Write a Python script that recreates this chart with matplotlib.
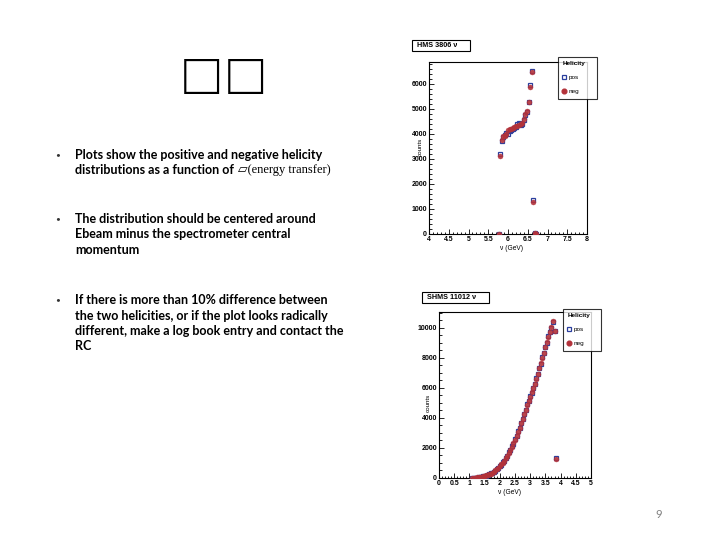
import matplotlib
matplotlib.use('Agg')
import matplotlib.pyplot as plt
from matplotlib.ticker import MultipleLocator
from matplotlib.lines import Line2D

# ---- slide text ----
title_chars = ["\u25a1", "\u25a1"]
bullets = [
    ["Plots show the positive and negative helicity",
     "distributions as a function of "],
    ["The distribution should be centered around",
     "Ebeam minus the spectrometer central",
     "momentum"],
    ["If there is more than 10% difference between",
     "the two helicities, or if the plot looks radically",
     "different, make a log book entry and contact the",
     "RC"],
]
bullet_tops = [155, 219, 300]
nu_tail = "\u25b1(energy transfer)"
page_no = "9"

# ---- HMS histogram (nu in GeV, counts) ----
hms_nu = [5.76, 5.80, 5.84, 5.88, 5.92, 5.96, 6.00, 6.04, 6.08, 6.12, 6.16, 6.20,
          6.24, 6.28, 6.32, 6.36, 6.40, 6.44, 6.48, 6.52, 6.56, 6.60, 6.64, 6.68, 6.72]
hms_pos = [0, 3180, 3720, 3880, 3950, 4020, 4000, 4100, 4150, 4200, 4230, 4280,
           4400, 4420, 4350, 4400, 4550, 4750, 4880, 5280, 5950, 6520, 1350, 20, 0]
hms_neg = [0, 3130, 3750, 3900, 3920, 3980, 4150, 4200, 4180, 4250, 4280, 4300,
           4330, 4370, 4380, 4450, 4600, 4800, 4900, 5270, 5880, 6480, 1280, 40, 0]

# ---- SHMS histogram ----
shms_nu = [1.10, 1.15, 1.20, 1.25, 1.30, 1.35, 1.40, 1.45, 1.50, 1.55, 1.60, 1.65,
           1.70, 1.75, 1.80, 1.85, 1.90, 1.95, 2.00, 2.05, 2.10, 2.15, 2.20, 2.25,
           2.30, 2.35, 2.40, 2.45, 2.50, 2.55, 2.60, 2.65, 2.70, 2.75, 2.80, 2.85,
           2.90, 2.95, 3.00, 3.05, 3.10, 3.15, 3.20, 3.25, 3.30, 3.35, 3.40, 3.45,
           3.50, 3.55, 3.60, 3.65, 3.70, 3.75, 3.80, 3.85]
shms_neg = [0, 10, 20, 35, 50, 70, 90, 115, 140, 170, 200, 240,
            290, 350, 420, 500, 590, 690, 790, 900, 1020, 1160, 1310, 1480,
            1670, 1870, 2080, 2310, 2550, 2800, 3070, 3350, 3640, 3940, 4250, 4560,
            4860, 5150, 5420, 5700, 5980, 6280, 6600, 6950, 7300, 7650, 8000, 8350,
            8700, 9050, 9400, 9750, 10050, 10450, 9780, 1260]
shms_pos = [0, 8, 22, 30, 55, 65, 95, 110, 145, 165, 210, 235,
            300, 340, 430, 490, 600, 680, 800, 890, 1040, 1150, 1330, 1460,
            1700, 1850, 2110, 2290, 2580, 2780, 3100, 3320, 3680, 3900, 4280, 4520,
            4900, 5110, 5460, 5660, 6020, 6240, 6640, 6900, 7350, 7600, 8050, 8300,
            8750, 9000, 9450, 9700, 10000, 10400, 9820, 1300]

POS_C = '#2b3f9e'
NEG_C = '#b3323a'
W, H = 720, 540
ROOT_FONT = ['Liberation Sans', 'DejaVu Sans']

plt.rcParams['font.family'] = ['Lato', 'DejaVu Sans']

fig = plt.figure(figsize=(7.2, 5.4), dpi=100)
fig.patch.set_facecolor('white')


def fx(px):
    return px / W


def fy(py):
    return 1 - py / H


# title (two slanted boxes)
for ch, cx in zip(title_chars, [201, 245]):
    fig.text(fx(cx), fy(79), ch, fontsize=42, ha='center', va='center',
             family=['Liberation Sans', 'DejaVu Sans'], style='italic',
             weight='bold', color='black')

# bullets
line_h = 15.5
for lines, top in zip(bullets, bullet_tops):
    fig.text(fx(58), fy(top), "\u2022", fontsize=6, ha='center', va='center',
             color='#333333')
    for i, ln in enumerate(lines):
        fig.text(fx(75), fy(top + i * line_h), ln, fontsize=9, ha='left',
                 va='center', color='black', weight='bold')

# serif tail of the first bullet
fig.canvas.draw()
renderer = fig.canvas.get_renderer()
first = [t for t in fig.texts if t.get_text() == bullets[0][1]][0]
bb = first.get_window_extent(renderer)
fig.text(bb.x1 / W + 0.002, fy(bullet_tops[0] + line_h), nu_tail, fontsize=9,
         ha='left', va='center', family=['Liberation Serif', 'DejaVu Sans'],
         color='black')

fig.text(fx(659), fy(515), page_no, fontsize=8, ha='center', va='center',
         color='#808080')


def root_panel(rect, nu, pos, neg, xlim, ylim, xmaj, xmin, ymaj, ymin, title,
               title_box, leg_box, xlab_xy, ylab_xy):
    ax = fig.add_axes(rect)
    ax.plot(nu, pos, 's', ms=3.4, mfc='none', mec=POS_C, mew=0.9, zorder=3)
    ax.plot(nu, neg, 'o', ms=3.6, mfc=NEG_C, mec=NEG_C, mew=0.3, alpha=0.9,
            zorder=4)
    ax.set_xlim(*xlim)
    ax.set_ylim(*ylim)
    ax.xaxis.set_major_locator(MultipleLocator(xmaj))
    ax.xaxis.set_minor_locator(MultipleLocator(xmin))
    ax.yaxis.set_major_locator(MultipleLocator(ymaj))
    ax.yaxis.set_minor_locator(MultipleLocator(ymin))
    ax.xaxis.set_major_formatter(plt.FuncFormatter(lambda v, p: f"{v:g}"))
    ax.yaxis.set_major_formatter(plt.FuncFormatter(lambda v, p: f"{v:.0f}"))
    ax.tick_params(which='both', direction='in', labelsize=5, pad=1.5,
                   width=0.6)
    ax.tick_params(which='major', length=3.5)
    ax.tick_params(which='minor', length=1.8)
    for lab in ax.get_xticklabels() + ax.get_yticklabels():
        lab.set_family(ROOT_FONT)
        lab.set_weight('bold')
    for sp in ax.spines.values():
        sp.set_linewidth(0.8)
    # title box: x0, x1, y0, y1 in pixels
    x0, x1, y0, y1 = title_box
    fig.patches.append(plt.Rectangle((fx(x0), fy(y1)), fx(x1 - x0),
                                     (y1 - y0) / H, transform=fig.transFigure,
                                     fc='white', ec='black', lw=0.8))
    fig.text(fx(x0 + 5), fy((y0 + y1) / 2), title, fontsize=5.2,
             weight='bold', ha='left', va='center', family=ROOT_FONT)
    # axis labels
    fig.text(fx(xlab_xy[0]), fy(xlab_xy[1]), "\u03bd (GeV)", fontsize=4.8,
             ha='center', va='center', family=ROOT_FONT)
    fig.text(fx(ylab_xy[0]), fy(ylab_xy[1]), "counts", fontsize=4.5,
             ha='center', va='center', rotation=90, family=ROOT_FONT)
    # legend: x0, x1, y0 (top) in pixels
    lx0, lx1, ly0 = leg_box
    handles = [Line2D([], [], ls='none', marker='s', ms=3.2, mfc='none',
                      mec=POS_C, mew=0.9),
               Line2D([], [], ls='none', marker='o', ms=3.4, mfc=NEG_C,
                      mec=NEG_C)]
    leg = fig.legend(handles, ['pos', 'neg'], title='Helicity',
                     loc='upper left', mode='expand',
                     bbox_to_anchor=(fx(lx0), fy(ly0) - 0.05, fx(lx1 - lx0), 0.05),
                     fontsize=4.6, title_fontsize=4.6, frameon=True,
                     fancybox=False, edgecolor='black', borderpad=0.7,
                     handlelength=0.6, handletextpad=0.4, labelspacing=1.3,
                     alignment='left', borderaxespad=0)
    leg.get_frame().set_linewidth(0.8)
    leg.get_title().set_weight('bold')
    leg.get_title().set_family(ROOT_FONT)
    for t in leg.get_texts():
        t.set_family(ROOT_FONT)
    return ax


root_panel([fx(429), fy(234), (587 - 429) / W, (234 - 62) / H],
           hms_nu, hms_pos, hms_neg, (4, 8), (0, 6870), 0.5, 0.1, 1000, 200,
           "HMS 3806 \u03bd", (412, 470, 40, 51), (558, 597, 57), (512, 248),
           (420, 146.5))

root_panel([fx(439), fy(478), (591 - 439) / W, (478 - 312) / H],
           shms_nu, shms_pos, shms_neg, (0, 5), (0, 11060), 0.5, 0.1, 2000, 500,
           "SHMS 11012 \u03bd", (422, 489, 292, 303), (563, 601, 309),
           (510, 492), (428, 403))

fig.savefig('out.png', dpi=100, facecolor='white')
